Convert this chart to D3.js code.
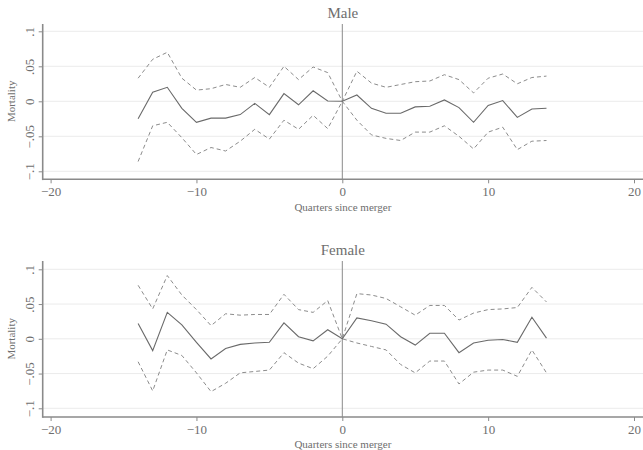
<!DOCTYPE html>
<html lang="en">

<head>
  <title></title>
  <meta charset="UTF-8">
  <style>
    body {
      margin: 0;
      background: #fff;
    }
    text {
      font-family: "Liberation Serif", "Times New Roman", serif;
      fill: #6e6e6e;
    }
  </style>
</head>

<body>
  <div id="container"></div>
  <script src="https://cdn.jsdelivr.net/npm/d3@7"></script>
  <script>
    // quarters relative to the merger
    const quarters = [-14, -13, -12, -11, -10, -9, -8, -7, -6, -5, -4, -3, -2, -1, 0,
      1, 2, 3, 4, 5, 6, 7, 8, 9, 10, 11, 12, 13, 14];

    const maleCoef = [-0.025, 0.013, 0.020, -0.010, -0.030, -0.024, -0.024, -0.019, -0.003, -0.019,
      0.011, -0.005, 0.015, 0.0005, 0, 0.009, -0.010, -0.017, -0.017, -0.008, -0.007, 0.002,
      -0.009, -0.030, -0.006, 0.001, -0.023, -0.011, -0.010];
    const maleUpper = [0.033, 0.060, 0.070, 0.033, 0.016, 0.018, 0.024, 0.020, 0.034, 0.020,
      0.050, 0.031, 0.049, 0.041, 0, 0.043, 0.026, 0.020, 0.024, 0.028, 0.029, 0.038,
      0.031, 0.012, 0.033, 0.039, 0.025, 0.034, 0.036];
    const maleLower = [-0.086, -0.035, -0.030, -0.052, -0.076, -0.066, -0.071, -0.057, -0.040, -0.054,
      -0.027, -0.040, -0.020, -0.039, 0, -0.027, -0.048, -0.053, -0.056, -0.044, -0.044, -0.035,
      -0.050, -0.068, -0.044, -0.037, -0.069, -0.057, -0.056];

    const femaleCoef = [0.022, -0.017, 0.038, 0.020, -0.005, -0.029, -0.014, -0.008, -0.006, -0.005,
      0.023, 0.003, -0.003, 0.013, 0, 0.030, 0.026, 0.021, 0.003, -0.009, 0.008, 0.008,
      -0.020, -0.006, -0.002, -0.001, -0.005, 0.031, 0.001];
    const femaleUpper = [0.077, 0.043, 0.091, 0.063, 0.042, 0.019, 0.036, 0.034, 0.035, 0.035,
      0.064, 0.042, 0.038, 0.055, 0, 0.065, 0.063, 0.058, 0.046, 0.034, 0.048, 0.048,
      0.027, 0.037, 0.042, 0.043, 0.045, 0.074, 0.053];
    const femaleLower = [-0.033, -0.075, -0.016, -0.024, -0.049, -0.076, -0.064, -0.049, -0.047, -0.045,
      -0.020, -0.035, -0.043, -0.025, 0, -0.006, -0.011, -0.016, -0.037, -0.049, -0.032, -0.032,
      -0.065, -0.048, -0.045, -0.045, -0.054, -0.016, -0.049];

    const xTicks = [-20, -10, 0, 10, 20];
    const yTicks = [-0.1, -0.05, 0, 0.05, 0.1];
    const yTickLabels = ['\u2212.1', '\u2212.05', '0', '.05', '.1'];

    const size = { w: 643, h: 450 };
    const plotLeft = 42.7;
    const plotRight = 643;
    const serif = '"Liberation Serif", "Times New Roman", serif';

    const svg = d3.select('#container')
      .append('svg')
      .attr('width', size.w)
      .attr('height', size.h);

    const x = d3.scaleLinear()
      .domain([-20, 20])
      .range([50.6, 634]);

    function drawPanel(opt) {
      const y = d3.scaleLinear()
        .domain([-0.1, 0.1])
        .range([opt.yBottom, opt.yTop]);
      const g = svg.append('g');

      // gridlines
      g.selectAll('.grid')
        .data(yTicks)
        .enter()
        .append('line')
        .attr('x1', plotLeft)
        .attr('x2', plotRight)
        .attr('y1', d => y(d))
        .attr('y2', d => y(d))
        .style('stroke', '#ececec')
        .style('stroke-width', 1);

      // y axis
      const yAxis = g.append('g')
        .attr('transform', `translate(${plotLeft},0)`)
        .call(d3.axisLeft(y).tickValues(yTicks).tickSize(4).tickSizeOuter(0)
          .tickFormat((d, i) => yTickLabels[i]));
      yAxis.attr('font-family', serif);
      yAxis.select('.domain').remove();
      yAxis.selectAll('line').style('stroke', '#8a8a8a');
      yAxis.selectAll('text')
        .attr('x', 0)
        .attr('y', -9)
        .attr('dy', null)
        .attr('text-anchor', 'middle')
        .attr('transform', 'rotate(-90)')
        .style('font-family', serif)
        .style('font-size', '13px')
        .style('fill', '#6e6e6e');

      // x axis
      const xAxis = g.append('g')
        .attr('transform', `translate(0,${opt.axisY})`)
        .call(d3.axisBottom(x).tickValues(xTicks).tickSize(4).tickSizeOuter(0)
          .tickFormat(d => d < 0 ? '\u2212' + Math.abs(d) : d));
      xAxis.attr('font-family', serif);
      xAxis.select('.domain').remove();
      xAxis.selectAll('line').style('stroke', '#8a8a8a');
      xAxis.selectAll('text')
        .attr('y', 17)
        .attr('dy', null)
        .style('font-family', serif)
        .style('font-size', '13px')
        .style('fill', '#6e6e6e');

      // axis lines
      g.append('line')
        .attr('x1', plotLeft).attr('x2', plotLeft)
        .attr('y1', opt.plotTop).attr('y2', opt.axisY + 0.8)
        .style('stroke', '#8a8a8a')
        .style('stroke-width', 1.6);
      g.append('line')
        .attr('x1', plotLeft).attr('x2', plotRight)
        .attr('y1', opt.axisY).attr('y2', opt.axisY)
        .style('stroke', '#8a8a8a')
        .style('stroke-width', 1.6);

      // reference line at merger
      g.append('line')
        .attr('x1', x(0)).attr('x2', x(0))
        .attr('y1', opt.plotTop).attr('y2', opt.axisY)
        .style('stroke', '#8a8a8a')
        .style('stroke-width', 1);

      const line = d3.line()
        .x((d, i) => x(quarters[i]))
        .y(d => y(d));

      g.append('path')
        .datum(opt.upper)
        .attr('d', line)
        .style('fill', 'none')
        .style('stroke', '#8c8c8c')
        .style('stroke-width', 1)
        .style('stroke-dasharray', '4,3');
      g.append('path')
        .datum(opt.lower)
        .attr('d', line)
        .style('fill', 'none')
        .style('stroke', '#8c8c8c')
        .style('stroke-width', 1)
        .style('stroke-dasharray', '4,3');
      g.append('path')
        .datum(opt.coef)
        .attr('d', line)
        .style('fill', 'none')
        .style('stroke', '#6a6a6a')
        .style('stroke-width', 1.1);

      // titles
      g.append('text')
        .attr('x', (plotLeft + plotRight) / 2)
        .attr('y', opt.plotTop - 6)
        .attr('text-anchor', 'middle')
        .style('font-size', '15px')
        .text(opt.title);
      g.append('text')
        .attr('transform', `translate(14.5,${y(0)}) rotate(-90)`)
        .attr('text-anchor', 'middle')
        .style('font-size', '11px')
        .text('Mortality');
      g.append('text')
        .attr('x', (plotLeft + plotRight) / 2)
        .attr('y', opt.axisY + opt.labelGap)
        .attr('text-anchor', 'middle')
        .style('font-size', '11px')
        .text('Quarters since merger');
    }

    drawPanel({
      title: 'Male', plotTop: 24, axisY: 179.3, yTop: 31.3, yBottom: 171.3, labelGap: 32,
      coef: maleCoef, upper: maleUpper, lower: maleLower
    });
    drawPanel({
      title: 'Female', plotTop: 261, axisY: 417, yTop: 269.3, yBottom: 408.3, labelGap: 30.5,
      coef: femaleCoef, upper: femaleUpper, lower: femaleLower
    });
  </script>
</body>

</html>
